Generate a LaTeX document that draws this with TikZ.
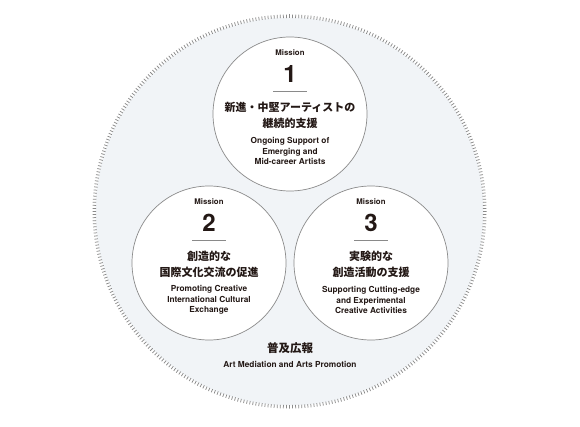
\documentclass[tikz,border=0pt]{standalone}
\usepackage{fontspec}
\setmainfont{TeX Gyre Heros}
\newfontfamily\jpfont{Noto Sans CJK JP}
\usepackage{xcolor}
\usepackage{tikz}
\usetikzlibrary{positioning,calc}

\definecolor{bgfill}{HTML}{F1F4F7}
\definecolor{rimgray}{HTML}{8A8A8A}
\definecolor{inkblack}{HTML}{231815}

% one mission circle: name, position, digit, japanese, english
\newcommand{\missioncircle}[5]{%
    \node[mcircle] (#1) at (#2) {};
    \node[misslbl] (#1-lbl) at ([yshift=61pt]#1.center) {Mission};
    \node[missnum] (#1-num) at ([yshift=40pt]#1.center) {#3};
    \draw[rule] ([xshift=-17pt,yshift=23pt]#1.center) -- ([xshift=17pt,yshift=23pt]#1.center);
    \node[jptext] (#1-jp) at ([yshift=-1.5pt]#1.center) {#4};
    \node[entext] (#1-en) at ([yshift=-37pt]#1.center) {#5};
}

\begin{document}
\begin{tikzpicture}[
    x=1pt, y=1pt,
    every node/.style={inner sep=0pt, text=inkblack},
    bigcircle/.style={circle, fill=bgfill, minimum size=388pt},
    mcircle/.style={circle, draw=rimgray, line width=0.7pt, fill=white, minimum size=154pt},
    tickmark/.style={draw=rimgray, line width=0.75pt},
    rule/.style={draw=rimgray, line width=0.6pt},
    misslbl/.style={font=\bfseries\fontsize{7.8}{8}\selectfont},
    missnum/.style={font=\bfseries\fontsize{24}{24}\selectfont},
    jptext/.style={align=center, font=\jpfont\bfseries\fontsize{11}{16.5}\selectfont},
    entext/.style={align=center, font=\bfseries\fontsize{8.3}{10.5}\selectfont}
]
    \useasboundingbox (0,0) rectangle (580,426);

    \node[bigcircle] (outer) at (289.5,214.5) {};
    \foreach \i in {1,...,400}
        \draw[tickmark] (outer.center) ++(\i*0.9:193.5pt) -- ++(\i*0.9:3.5pt);

    \missioncircle{m1}{290,312}{1}{新進・中堅アーティストの\\継続的支援}{Ongoing Support of\\Emerging and\\Mid-career Artists}
    \missioncircle{m2}{209,163}{2}{創造的な\\国際文化交流の促進}{Promoting Creative\\International Cultural\\Exchange}
    \missioncircle{m3}{371,163}{3}{実験的な\\創造活動の支援}{Supporting Cutting-edge\\and Experimental\\Creative Activities}

    \node[jptext, font=\jpfont\bfseries\fontsize{11.5}{12}\selectfont] (promo-jp) at (290,78) {普及広報};
    \node[entext] (promo-en) at ([yshift=-16pt]promo-jp.center) {Art Mediation and Arts Promotion};
\end{tikzpicture}
\end{document}
